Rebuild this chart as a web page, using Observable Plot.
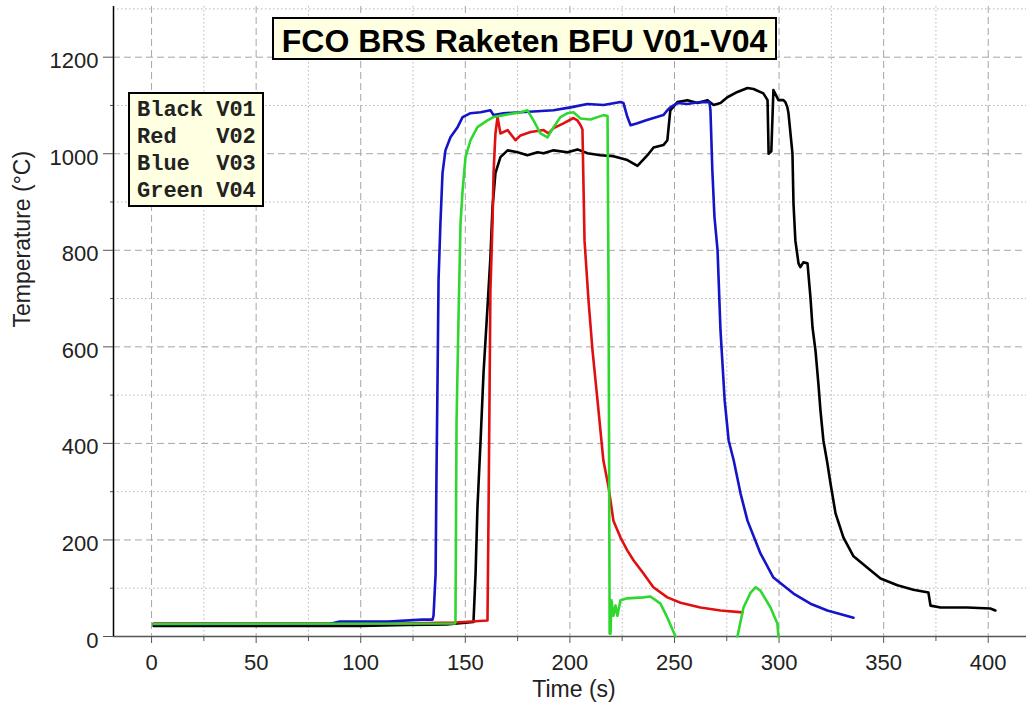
<!DOCTYPE html>
<html>
<head>
<meta charset="utf-8">
<script src="https://cdn.jsdelivr.net/npm/d3@7"></script>
<script src="https://cdn.jsdelivr.net/npm/@observablehq/plot@0.6"></script>
<style>
  body { margin: 0; background: #fff; }
  #chart { position: relative; width: 1026px; height: 708px; }
</style>
</head>
<body>
<div id="chart"></div>
<script>
// ---------------- data ----------------
const chartTitle = "FCO BRS Raketen BFU V01-V04";
const xLabel = "Time (s)";
const yLabel = "Temperature (°C)";
const legendNames = ["Black", "Red", "Blue", "Green"];
const legendCodes = ["V01", "V02", "V03", "V04"];

const xMajor = [0, 50, 100, 150, 200, 250, 300, 350, 400];
const xMinor = [25, 75, 125, 175, 225, 275, 325, 375];
const yMajor = [0, 200, 400, 600, 800, 1000, 1200];
const yMinor = [100, 300, 500, 700, 900, 1100, 1300];
const xDomain = [-18.2, 418.3];
const yDomain = [0, 1305];

// V01 (black)
const v01Time = [1, 100, 122, 141, 153.9, 154.9, 155.8, 157.3, 158.7, 160.6, 162, 163, 164.4, 166.8, 170.2, 175, 179.7, 184.5, 187.4, 192.2, 198.9, 203.6, 208.4, 214.6, 220.8, 227.5, 232.3, 237.1, 240, 244.7, 246.6, 248, 251.4, 256.2, 261, 265.8, 268.7, 272, 275.3, 280.1, 284.9, 287.8, 292.5, 294.5, 295, 296.3, 297.3, 299.7, 302.1, 303, 304, 304.5, 306.4, 306.9, 307.8, 309.3, 310.2, 311.6, 313.6, 315, 316, 317.4, 318.8, 319.8, 321.2, 323.1, 324.6, 327, 330.8, 335.6, 343.7, 348.5, 356.6, 364.2, 371.4, 372.4, 377.2, 390, 401, 403.4];
const v01Temp = [22, 22, 24, 25, 30, 130, 267, 406, 545, 682, 785, 889, 960, 993, 1007, 1003, 997, 1003, 1001, 1007, 1003, 1009, 1001, 997, 995, 987, 975, 997, 1013, 1018, 1028, 1090, 1107, 1111, 1105, 1111, 1101, 1105, 1117, 1128, 1136, 1134, 1125, 1111, 1000, 1005, 1132, 1111, 1111, 1107, 1096, 1084, 1001, 897, 820, 773, 765, 775, 773, 703, 640, 593, 524, 468, 406, 359, 317, 255, 205, 166, 137, 120, 106, 97, 91, 64, 60, 60, 58, 54];

// V02 (red)
const v02Time = [1, 120, 145, 153, 160.6, 161.1, 161.6, 162, 163, 163.5, 164.4, 165.4, 166.8, 170.2, 174, 176.4, 181.2, 187.4, 189.8, 192.2, 196.9, 201.7, 203.6, 205.1, 206, 207, 208.9, 210.8, 213.2, 216, 218.5, 220.8, 224.2, 227.5, 230.4, 235.1, 239.9, 246.6, 252.9, 262.4, 272, 282.5];
const v02Temp = [27, 27, 29, 31, 33, 255, 510, 717, 856, 960, 1042, 1076, 1042, 1049, 1028, 1038, 1045, 1049, 1042, 1053, 1063, 1074, 1069, 1059, 1050, 820, 696, 593, 489, 365, 309, 240, 205, 178, 158, 131, 102, 81, 70, 60, 54, 50];

// V03 (blue)
const v03Time = [1, 85, 90, 113, 129.5, 134.3, 134.8, 135.8, 136.2, 136.7, 137.2, 138.1, 139.1, 140.5, 142.9, 146.3, 148.7, 152.5, 157.3, 162, 163.5, 168.3, 176.4, 184.5, 192.2, 200.3, 208.4, 216.1, 224.2, 225.6, 227.5, 229, 232.3, 236.1, 240, 244.7, 246.6, 248, 251.4, 256.2, 259.1, 262.4, 266.7, 267.2, 268.1, 269.1, 270.6, 272, 274, 275.9, 278.3, 281.6, 284.9, 291.1, 297.3, 306.9, 315, 323.1, 335.6];
const v03Temp = [26, 26, 31, 31, 35, 35, 43, 130, 330, 524, 738, 856, 960, 1007, 1034, 1055, 1076, 1084, 1086, 1090, 1080, 1084, 1086, 1088, 1090, 1096, 1103, 1101, 1107, 1105, 1076, 1059, 1063, 1069, 1074, 1080, 1090, 1096, 1105, 1103, 1105, 1107, 1107, 1090, 966, 870, 800, 634, 489, 406, 365, 296, 240, 172, 122, 89, 68, 54, 39];

// V04 (green) — null marks the gap where the trace leaves the plot
const v04Time = [1, 145, 145.3, 145.8, 146.7, 147.7, 148.7, 150.1, 152.5, 155.8, 160.6, 163.5, 168.3, 176.4, 179.7, 182.6, 185.9, 189.3, 192.2, 195.5, 198.9, 201.7, 205.1, 209.8, 216.1, 218, 218.5, 219, 219.4, 219.9, 220.8, 221.8, 222.7, 224.2, 227.5, 235.1, 238.5, 243.3, 246.6, 250.5, 265, 280.1, 283, 286.4, 288.8, 291.1, 295.9, 299.2, 299.7];
const v04Temp = [26, 27, 31, 441, 649, 856, 924, 993, 1028, 1055, 1069, 1076, 1080, 1086, 1090, 1069, 1042, 1034, 1055, 1076, 1084, 1086, 1073, 1071, 1080, 1078, 696, 6, 6, 75, 43, 64, 43, 75, 79, 81, 83, 68, 39, 0, null, 0, 60, 91, 102, 95, 60, 27, 0];

const seriesColors = ["#000000", "#e01010", "#1414c8", "#2ed82e"];

// -------------- build tables --------------
const toRows = (ts, vs) => ts.map((t, i) => ({t, v: vs[i]}));
const series = [
  toRows(v01Time, v01Temp),
  toRows(v02Time, v02Temp),
  toRows(v03Time, v03Temp),
  toRows(v04Time, v04Temp)
];

const font = "Arial, 'Liberation Sans', Helvetica, sans-serif";
const tickColor = "#555";
const textColor = "#222";

const plot = Plot.plot({
  width: 1026,
  height: 708,
  marginLeft: 113,
  marginRight: 0,
  marginTop: 6,
  marginBottom: 72,
  x: {domain: xDomain},
  y: {domain: yDomain},
  style: {fontFamily: font, background: "#fff", overflow: "visible"},
  marks: [
    // grid
    Plot.ruleX(xMinor, {x: d => d, stroke: "#b4b4b4", strokeDasharray: "1.5,2.5"}),
    Plot.ruleX(xMajor, {x: d => d, stroke: "#a6a6a6", strokeDasharray: "7,4"}),
    Plot.ruleY(yMinor, {y: d => d, stroke: "#b4b4b4", strokeDasharray: "1.5,2.5"}),
    Plot.ruleY(yMajor.filter(d => d > 0), {y: d => d, stroke: "#a6a6a6", strokeDasharray: "7,4"}),
    // ticks
    Plot.axisX({ticks: xMajor, tickSize: 7, tickFormat: () => "", stroke: tickColor, label: null}),
    Plot.axisX({ticks: xMinor, tickSize: 5, tickFormat: () => "", stroke: tickColor, label: null}),
    Plot.axisY({ticks: yMajor, tickSize: 10, tickFormat: () => "", stroke: tickColor, label: null}),
    Plot.axisY({ticks: yMinor.filter(d => d < 1300), tickSize: 3, tickFormat: () => "", stroke: tickColor, label: null}),
    // tick labels
    Plot.text(xMajor, {x: d => d, text: d => String(d), frameAnchor: "bottom", lineAnchor: "top", dy: 18, fontSize: 22, fill: textColor}),
    Plot.text(yMajor, {y: d => d, text: d => String(d), frameAnchor: "left", textAnchor: "end", dx: -15, dy: 4, fontSize: 22, fill: textColor}),
    // axis titles
    Plot.text([xLabel], {text: d => d, frameAnchor: "bottom", dx: 4, dy: 60, fontSize: 23, fill: textColor}),
    Plot.text([yLabel], {text: d => d, frameAnchor: "left", dx: -91, dy: 6, rotate: -90, fontSize: 23, fill: textColor}),
    // axis lines
    Plot.ruleY([0], {stroke: tickColor, strokeWidth: 1.5}),
    // data
    ...series.map((rows, i) => Plot.line(rows, {x: "t", y: "v", stroke: seriesColors[i], strokeWidth: 2.6, curve: "linear"})),
    Plot.ruleX([xDomain[0]], {stroke: "#000", strokeWidth: 1.5})
  ]
});

document.getElementById("chart").appendChild(plot);

// title box and legend box drawn inside the plot's SVG
const svg = d3.select(plot);
const tg = svg.append("g");
tg.append("rect").attr("x", 273).attr("y", 18).attr("width", 503).attr("height", 41)
  .attr("fill", "#ffffe1").attr("stroke", "#000").attr("stroke-width", 2);
tg.append("text").attr("x", 524.5).attr("y", 52).attr("text-anchor", "middle")
  .attr("font-family", font).attr("font-weight", "bold").attr("font-size", 32).attr("fill", "#000")
  .text(chartTitle);

const lg = svg.append("g");
lg.append("rect").attr("x", 129).attr("y", 93).attr("width", 134).attr("height", 113)
  .attr("fill", "#ffffe1").attr("stroke", "#000").attr("stroke-width", 2);
legendNames.forEach((name, i) => {
  lg.append("text").attr("x", 137).attr("y", 116 + i * 27)
    .attr("text-anchor", "start")
    .attr("font-family", "'Courier New', 'Liberation Mono', monospace")
    .attr("font-weight", "bold")
    .attr("font-size", 22).attr("fill", "#222").style("white-space", "pre")
    .text(name.padEnd(6, " ") + legendCodes[i]);
});
</script>
</body>
</html>
